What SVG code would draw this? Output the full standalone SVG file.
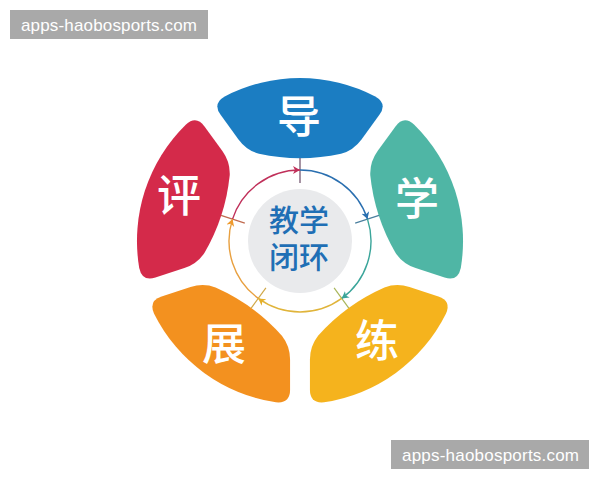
<svg xmlns="http://www.w3.org/2000/svg" xmlns:xlink="http://www.w3.org/1999/xlink" width="600" height="480" viewBox="0 0 600 480">
<style>
.lbl{font-family:"Noto Sans CJK SC","Noto Sans",sans-serif;font-size:44px;font-weight:500;fill:#ffffff;text-anchor:middle}
.ctr{font-family:"Noto Sans CJK SC","Noto Sans",sans-serif;font-size:30px;font-weight:500;fill:#1f6fb5;text-anchor:middle}
.wm{font-family:"Liberation Sans",Arial,sans-serif;font-size:17px;fill:#ffffff}
.arc{fill:none;stroke-width:1.4}
.tick{fill:none;stroke-width:1.2}
</style>
<defs>
<path id="petal" d="M -75.3,-144.6 A 163 163 0 0 1 75.3,-144.6 Q 87.6,-137.5 79.4,-126.2 L 61.5,-101.6 Q 53.6,-90.8 41,-87.2 Q 0,-78.3 -41,-87.2 Q -53.6,-90.8 -61.5,-101.6 L -79.4,-126.2 Q -87.6,-137.5 -75.3,-144.6 Z"/>
<marker id="aR" markerUnits="userSpaceOnUse" markerWidth="9" markerHeight="9" refX="7" refY="4" orient="auto"><path d="M0,0 L7,4 L0,8 L2,4 Z" fill="#c0305a"/></marker>
<marker id="aB" markerUnits="userSpaceOnUse" markerWidth="9" markerHeight="9" refX="7" refY="4" orient="auto"><path d="M0,0 L7,4 L0,8 L2,4 Z" fill="#2a6fb0"/></marker>
<marker id="aT" markerUnits="userSpaceOnUse" markerWidth="9" markerHeight="9" refX="7" refY="4" orient="auto"><path d="M0,0 L7,4 L0,8 L2,4 Z" fill="#3aa59a"/></marker>
<marker id="aY" markerUnits="userSpaceOnUse" markerWidth="9" markerHeight="9" refX="7" refY="4" orient="auto"><path d="M0,0 L7,4 L0,8 L2,4 Z" fill="#e5b02a"/></marker>
<marker id="aO" markerUnits="userSpaceOnUse" markerWidth="9" markerHeight="9" refX="7" refY="4" orient="auto"><path d="M0,0 L7,4 L0,8 L2,4 Z" fill="#ee9a2e"/></marker>
</defs>
<rect width="600" height="480" fill="#ffffff"/>

<g id="node-dao">
<use xlink:href="#petal" href="#petal" transform="translate(300,241)" fill="#1b7dc2"/>
<text class="lbl" x="299" y="133">导</text>
</g>
<g id="node-xue">
<use xlink:href="#petal" href="#petal" transform="translate(300,241) rotate(72)" fill="#4fb6a5"/>
<text class="lbl" x="417" y="215">学</text>
</g>
<g id="node-lian">
<use xlink:href="#petal" href="#petal" transform="translate(300,241) rotate(144)" fill="#f5b31d"/>
<text class="lbl" x="377" y="357">练</text>
</g>
<g id="node-zhan">
<use xlink:href="#petal" href="#petal" transform="translate(300,241) rotate(216)" fill="#f3911f"/>
<text class="lbl" x="224" y="360">展</text>
</g>
<g id="node-ping">
<use xlink:href="#petal" href="#petal" transform="translate(300,241) rotate(288)" fill="#d42a4a"/>
<text class="lbl" x="179" y="212">评</text>
</g>

<g id="node-center">
<circle cx="300" cy="241" r="52" fill="#e9eaec"/>
<text class="ctr" x="299" y="231">教学</text>
<text class="ctr" x="299" y="268">闭环</text>
</g>

<g id="connectors">
<path class="tick" stroke="#6a4a66" d="M300,183 L300,158"/>
<path class="tick" stroke="#4a7f9e" d="M355.2,223.1 L379,215.4"/>
<path class="tick" stroke="#a9b65a" d="M334.1,287.9 L348.8,308.1"/>
<path class="tick" stroke="#d0a848" d="M265.9,287.9 L251.2,308.1"/>
<path class="tick" stroke="#c06a4e" d="M244.8,223.1 L221,215.4"/>
<path class="arc" stroke="#c0305a" d="M232.5,219.1 A71,71 0 0 1 300,170" marker-end="url(#aR)"/>
<path class="arc" stroke="#2a6fb0" d="M300,170 A71,71 0 0 1 367.5,219.1" marker-end="url(#aB)"/>
<path class="arc" stroke="#3aa59a" d="M367.5,219.1 A71,71 0 0 1 341.7,298.4" marker-end="url(#aT)"/>
<path class="arc" stroke="#e0b43a" d="M341.7,298.4 A71,71 0 0 1 258.3,298.4" marker-end="url(#aY)"/>
<path class="arc" stroke="#e8a040" d="M258.3,298.4 A71,71 0 0 1 232.5,219.1" marker-end="url(#aO)"/>
</g>

<g id="watermark-top">
<rect x="10" y="10" width="198" height="29" fill="#a9a9a9"/>
<text class="wm" x="21" y="31" textLength="176">apps-haobosports.com</text>
</g>
<g id="watermark-bottom">
<rect x="391" y="440" width="198" height="29" fill="#a9a9a9"/>
<text class="wm" x="402" y="461" textLength="177">apps-haobosports.com</text>
</g>
</svg>
